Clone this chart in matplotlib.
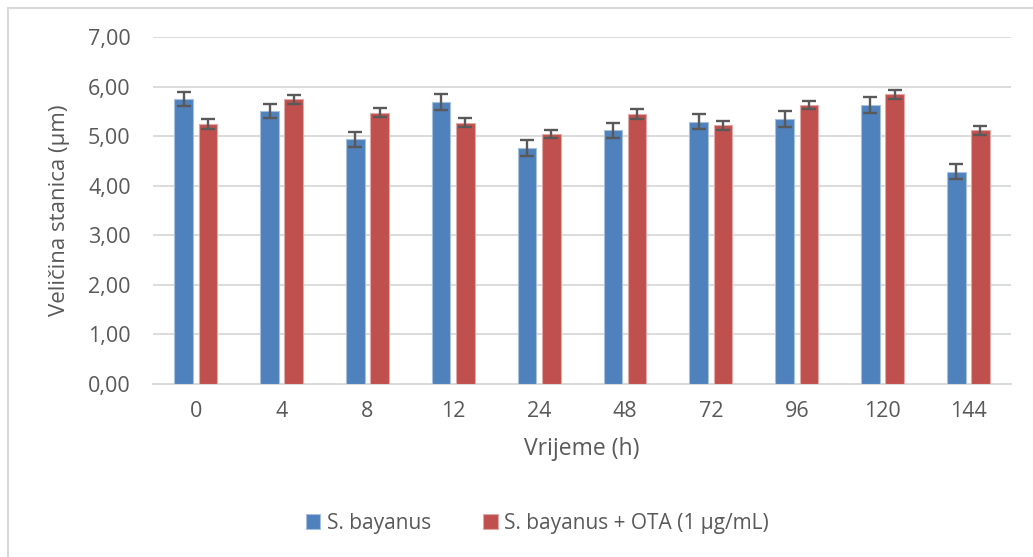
import matplotlib.pyplot as plt
from matplotlib.patches import Rectangle
import numpy as np

plt.rcParams['font.family'] = ['Open Sans', 'DejaVu Sans']

# data
vrijeme = ['0', '4', '8', '12', '24', '48', '72', '96', '120', '144']
bayanus = [5.75, 5.51, 4.94, 5.69, 4.76, 5.12, 5.30, 5.35, 5.64, 4.29]
bayanus_err = [0.14, 0.14, 0.15, 0.16, 0.16, 0.15, 0.16, 0.16, 0.16, 0.15]
bayanus_ota = [5.25, 5.75, 5.48, 5.28, 5.04, 5.46, 5.22, 5.64, 5.85, 5.12]
bayanus_ota_err = [0.10, 0.09, 0.09, 0.09, 0.08, 0.10, 0.09, 0.08, 0.09, 0.09]

blue = '#4F81BD'
red = '#C0504D'
txt = '#595959'
grid = '#D9D9D9'

fig = plt.figure(figsize=(10.33, 5.57), dpi=100)
ax = fig.add_axes([0.148, 0.3106, 0.831, 0.6224])

x = np.arange(len(vrijeme))
w = 0.216
off = 0.141
ekw = dict(ecolor='#595959', elinewidth=1.7, capsize=5, capthick=1.7)
ax.bar(x - off, bayanus, w, color=blue, edgecolor='#A7C0DE', linewidth=0.8,
       yerr=bayanus_err, error_kw=ekw, zorder=3, label='S. bayanus')
ax.bar(x + off, bayanus_ota, w, color=red, edgecolor='#E0A8A6', linewidth=0.8,
       yerr=bayanus_ota_err, error_kw=ekw, zorder=3,
       label='S. bayanus + OTA (1 µg/mL)')

ax.set_xlim(-0.5, len(vrijeme) - 0.5)
ax.set_ylim(0, 7)
ax.set_yticks(np.arange(0, 8, 1))
ax.set_yticklabels([f'{v:.2f}'.replace('.', ',') for v in range(8)])
ax.set_xticks(x)
ax.set_xticklabels(vrijeme)
ax.yaxis.grid(True, color=grid, linewidth=1.3, zorder=0)
for s in ['top', 'right', 'left']:
    ax.spines[s].set_visible(False)
ax.spines['bottom'].set_color(grid)
ax.spines['bottom'].set_linewidth(1.3)
ax.tick_params(axis='y', length=0, pad=16, labelsize=15.5, labelcolor=txt)
ax.tick_params(axis='x', length=0, pad=12, labelsize=15.5, labelcolor=txt)

ax.set_xlabel('Vrijeme (h)', fontsize=16.5, color=txt, labelpad=11)
ax.set_ylabel('Veličina stanica (µm)', fontsize=16, color=txt, labelpad=13)

fig.legend(loc='center', bbox_to_anchor=(0.52, 0.06), ncol=2, frameon=False,
           fontsize=15, labelcolor=txt, handlelength=0.7, handleheight=0.7,
           handletextpad=0.3, columnspacing=2.5)

# outer chart frame
fig.patches.append(Rectangle((8 / 1033, -0.1), 1.2, (549 / 557) + 0.1,
                             transform=fig.transFigure, fill=False,
                             edgecolor=grid, linewidth=1.5))

fig.savefig('out.png', dpi=100)
